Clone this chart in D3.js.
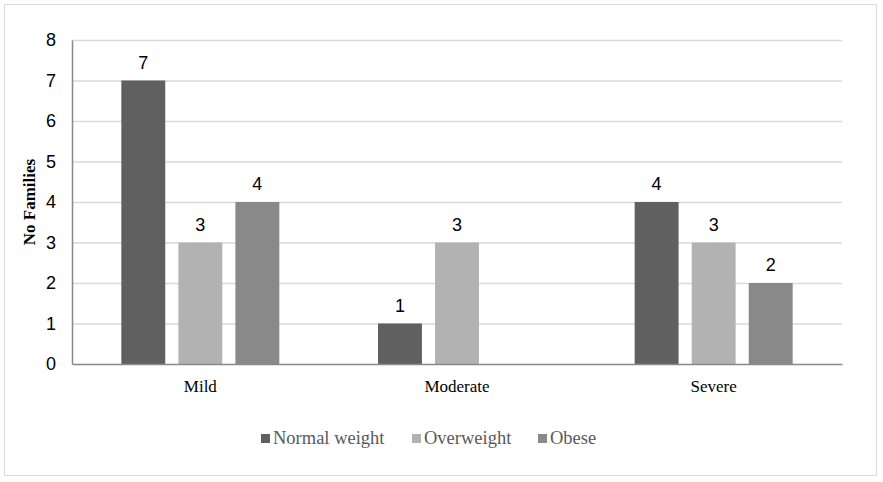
<!DOCTYPE html>
<html>
<head>
<meta charset="utf-8">
<script src="https://cdn.jsdelivr.net/npm/d3@7"></script>
<style>
  body { margin: 0; background: #fff; }
  .serif { font-family: "Liberation Serif", "DejaVu Serif", "Times New Roman", serif; }
  .sans { font-family: "Liberation Sans", Arial, sans-serif; }
</style>
</head>
<body>
<div id="canvas"></div>
<script>
let categories = ["Mild", "Moderate", "Severe"];
let series = ["Normal weight", "Overweight", "Obese"];
let normalWeight = [7, 1, 4];
let overweight = [3, 3, 3];
let obese = [4, null, 2];
let yTicks = [0, 1, 2, 3, 4, 5, 6, 7, 8];
let colors = ["#606060", "#b2b2b2", "#898989"];

let width = 883;
let height = 482;
let values = [normalWeight, overweight, obese];

var svg = d3.select("#canvas").append("svg")
    .attr("width", width)
    .attr("height", height);

// outer frame
svg.append("rect")
    .attr("x", 4.5).attr("y", 4.5)
    .attr("width", 872).attr("height", 471)
    .attr("fill", "none")
    .attr("stroke", "#d9d9d9");

let plotLeft = 72, plotRight = 842, plotTop = 40, plotBottom = 364;

var x0 = d3.scaleBand()
    .domain(categories)
    .range([plotLeft, plotRight]);

var bw = x0.bandwidth();
var x1 = d3.scaleBand()
    .domain(series)
    .range([(bw - 158) / 2, (bw + 158) / 2])
    .paddingInner(0.23);

var yScale = d3.scaleLinear()
    .domain([0, 8])
    .range([plotBottom, plotTop]);

// gridlines
svg.append("g").selectAll("line")
    .data(yTicks.filter(d => d > 0))
    .enter().append("line")
    .attr("x1", plotLeft).attr("x2", plotRight)
    .attr("y1", d => yScale(d) + 0.5).attr("y2", d => yScale(d) + 0.5)
    .attr("stroke", "#d9d9d9")
    .attr("stroke-width", 1.5);

// y axis
var yAxis = svg.append("g")
    .attr("transform", "translate(" + plotLeft + ",0)")
    .call(d3.axisLeft(yScale).tickValues(yTicks).tickSize(0).tickPadding(16));
yAxis.attr("font-family", null);
yAxis.select(".domain").attr("stroke", "#898989").attr("stroke-width", 1.5);
yAxis.selectAll("text")
    .attr("class", "sans")
    .attr("font-size", 18)
    .attr("fill", "#000");

// bars
series.forEach(function (s, i) {
    let pts = categories.map((c, k) => ({ c: c, v: values[i][k] })).filter(d => d.v != null);
    let g = svg.append("g");
    g.selectAll("rect")
        .data(pts)
        .enter().append("rect")
        .attr("x", d => x0(d.c) + x1(s))
        .attr("y", d => yScale(d.v))
        .attr("width", x1.bandwidth())
        .attr("height", d => yScale(0) - yScale(d.v))
        .attr("fill", colors[i]);
    g.selectAll("text")
        .data(pts)
        .enter().append("text")
        .attr("class", "sans")
        .attr("x", d => x0(d.c) + x1(s) + x1.bandwidth() / 2)
        .attr("y", d => yScale(d.v) - 12)
        .attr("text-anchor", "middle")
        .attr("font-size", 18)
        .attr("fill", "#000")
        .text(d => d.v);
});

// x axis
var xAxis = svg.append("g")
    .attr("transform", "translate(0," + plotBottom + ")")
    .call(d3.axisBottom(x0).tickSize(0).tickPadding(16));
xAxis.attr("font-family", null);
xAxis.select(".domain").attr("stroke", "#898989").attr("stroke-width", 1.5);
xAxis.selectAll("text")
    .attr("class", "serif")
    .attr("font-size", 17)
    .attr("fill", "#000");

// y title
svg.append("text")
    .attr("class", "serif")
    .attr("transform", "translate(35," + ((plotTop + plotBottom) / 2) + ") rotate(-90)")
    .attr("text-anchor", "middle")
    .attr("font-size", 17)
    .attr("font-weight", "bold")
    .attr("fill", "#000")
    .text("No Families");

// legend
var legendX = [261, 412, 538];
var legend = svg.append("g");
series.forEach(function (s, i) {
    legend.append("rect")
        .attr("x", legendX[i]).attr("y", 434)
        .attr("width", 9).attr("height", 9)
        .attr("fill", colors[i]);
    legend.append("text")
        .attr("class", "serif")
        .attr("x", legendX[i] + 12).attr("y", 444)
        .attr("font-size", 18.5)
        .attr("fill", "#595959")
        .text(s);
});
</script>
</body>
</html>
